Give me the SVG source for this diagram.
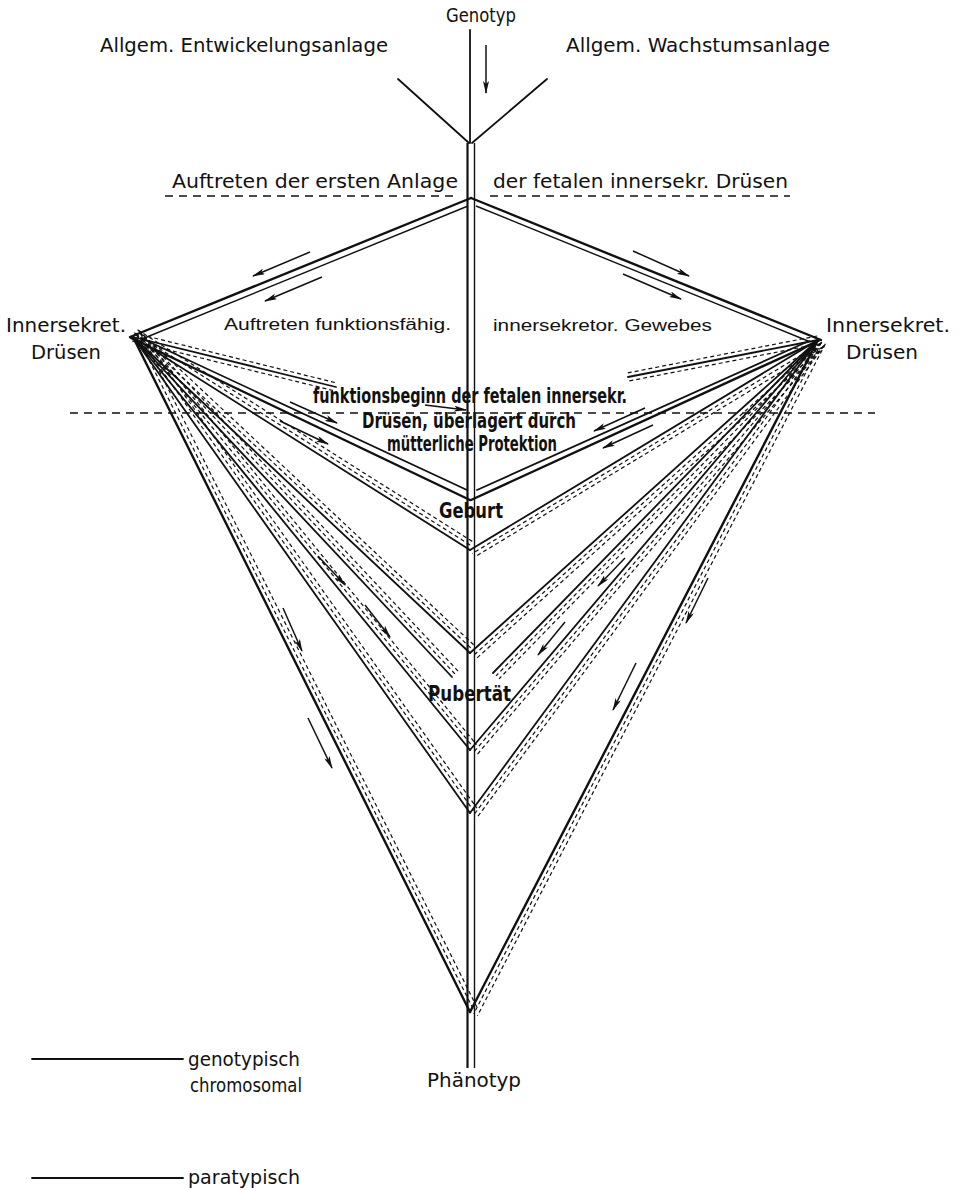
<svg xmlns="http://www.w3.org/2000/svg" xmlns:xlink="http://www.w3.org/1999/xlink" width="959" height="1190" viewBox="0 0 959 1190">
<style>
.din{font-family:"DejaVu Sans","Liberation Sans",sans-serif;font-size:19px;fill:#111}
.hel{font-family:"Liberation Sans",Arial,sans-serif;font-size:16px;fill:#111}
.cb{font-family:"DejaVu Sans Condensed","DejaVu Sans","Liberation Sans",sans-serif;font-weight:bold;font-size:21px;fill:#111}
.s{stroke:#111;stroke-width:1.8;fill:none;stroke-linecap:round}
.t{stroke:#111;stroke-width:2.4;fill:none;stroke-linecap:round}
.n{stroke:#111;stroke-width:1.4;fill:none}
.d{stroke:#111;stroke-width:1.2;fill:none;stroke-dasharray:4 3}
.d2{stroke:#111;stroke-width:1.5;fill:none;stroke-dasharray:8 6}
.ar{stroke:#111;stroke-width:1.5;fill:none;marker-end:url(#ah)}
</style>
<defs>
<marker id="ah" markerUnits="userSpaceOnUse" markerWidth="13" markerHeight="6" refX="12" refY="3" orient="auto"><path d="M0,0 L13,3 L0,6 L3,3 z" fill="#111"/></marker>
<path id="la" d="M133,337 L470,550"/>
<path id="lb" d="M133,337 L470,653"/>
<path id="lc" d="M133,337 L452,677"/>
<path id="ld" d="M133,337 L470,750"/>
<path id="le" d="M133,337 L470,813"/>
<path id="lf" d="M133,337 L470,1012"/>
<path id="lg" d="M133,337 L336,387"/>
<path id="ra" d="M818,340 L470,550"/>
<path id="rb" d="M818,340 L470,653"/>
<path id="rc" d="M818,340 L493,673"/>
<path id="rd" d="M818,340 L470,750"/>
<path id="re" d="M818,340 L470,813"/>
<path id="rf" d="M818,340 L470,1012"/>
<path id="rg" d="M818,340 L628,377"/>
</defs>
<rect width="959" height="1190" fill="#fff"/>

<g id="connectors">
  <line class="s" x1="470" y1="30" x2="470" y2="143"/>
  <line class="s" x1="398" y1="79" x2="469" y2="143"/>
  <line class="s" x1="547" y1="79" x2="472" y2="143"/>
  <line x1="467.5" y1="143" x2="467.5" y2="1068" stroke="#111" stroke-width="2.2"/>
  <line x1="474.5" y1="143" x2="474.5" y2="1068" stroke="#111" stroke-width="1.4"/>
  <line class="d2" x1="165" y1="196" x2="458" y2="196"/>
  <line class="d2" x1="490" y1="196" x2="790" y2="196"/>
  <line class="d2" x1="70" y1="413" x2="875" y2="413"/>
  <line class="t" x1="471" y1="198" x2="130" y2="337"/>
  <line class="n" x1="468" y1="206" x2="142" y2="339"/>
  <line class="t" x1="471" y1="198" x2="821" y2="340"/>
  <line class="n" x1="476" y1="206" x2="808" y2="341"/>
  <line class="t" x1="131" y1="338" x2="470" y2="500"/>
  <line class="s" x1="141" y1="338" x2="467" y2="490"/>
  <line class="t" x1="820" y1="340" x2="471" y2="500"/>
  <line class="s" x1="809" y1="341" x2="477" y2="490"/>
  <use href="#la" class="s"/><use href="#la" class="d" transform="translate(2.3,-3.6)"/><use href="#la" class="d" transform="translate(4.5,-7.2)"/>
  <use href="#lb" class="s"/><use href="#lb" class="d" transform="translate(2.9,-3.1)"/><use href="#lb" class="d" transform="translate(5.8,-6.2)"/>
  <use href="#lc" class="s"/><use href="#lc" class="d" transform="translate(3.1,-2.9)"/><use href="#lc" class="d" transform="translate(6.2,-5.8)"/>
  <use href="#ld" class="s"/><use href="#ld" class="d" transform="translate(3.3,-2.7)"/><use href="#ld" class="d" transform="translate(6.5,-5.3)"/>
  <use href="#le" class="s"/><use href="#le" class="d" transform="translate(3.5,-2.4)"/><use href="#le" class="d" transform="translate(6.9,-4.8)"/>
  <use href="#lf" class="t"/><use href="#lf" class="d" transform="translate(3.7,-1.9)"/><use href="#lf" class="d" transform="translate(7.5,-3.7)"/>
  <use href="#lg" class="s"/><use href="#lg" class="d" transform="translate(0.9,-4)"/><use href="#lg" class="d" transform="translate(-0.9,4)"/>
  <use href="#ra" class="s"/><use href="#ra" class="d" transform="translate(2.2,3.6)"/><use href="#ra" class="d" transform="translate(4.3,7.2)"/>
  <use href="#rb" class="s"/><use href="#rb" class="d" transform="translate(2.8,3.1)"/><use href="#rb" class="d" transform="translate(5.6,6.2)"/>
  <use href="#rc" class="s"/><use href="#rc" class="d" transform="translate(3,2.9)"/><use href="#rc" class="d" transform="translate(6,5.9)"/>
  <use href="#rd" class="s"/><use href="#rd" class="d" transform="translate(3.2,2.8)"/><use href="#rd" class="d" transform="translate(6.4,5.4)"/>
  <use href="#re" class="s"/><use href="#re" class="d" transform="translate(3.4,2.5)"/><use href="#re" class="d" transform="translate(6.7,5)"/>
  <use href="#rf" class="t"/><use href="#rf" class="d" transform="translate(3.7,1.9)"/><use href="#rf" class="d" transform="translate(7.4,3.8)"/>
  <use href="#rg" class="s"/><use href="#rg" class="d" transform="translate(0.8,4)"/><use href="#rg" class="d" transform="translate(-0.8,-4)"/>
  <line class="ar" x1="486" y1="45" x2="486" y2="93"/>
  <line class="ar" x1="310" y1="252" x2="253" y2="276"/>
  <line class="ar" x1="322" y1="277" x2="265" y2="301"/>
  <line class="ar" x1="633" y1="251" x2="689" y2="276"/>
  <line class="ar" x1="623" y1="274" x2="681" y2="299"/>
  <line class="ar" x1="290" y1="402" x2="337" y2="423"/>
  <line class="ar" x1="280" y1="421" x2="328" y2="444"/>
  <line class="ar" x1="645" y1="408" x2="594" y2="431"/>
  <line class="ar" x1="653" y1="425" x2="603" y2="448"/>
  <line class="ar" x1="318" y1="556" x2="345" y2="585"/>
  <line class="ar" x1="365" y1="605" x2="390" y2="637"/>
  <line class="ar" x1="283" y1="608" x2="302" y2="651"/>
  <line class="ar" x1="308" y1="718" x2="332" y2="768"/>
  <line class="ar" x1="625" y1="558" x2="598" y2="586"/>
  <line class="ar" x1="565" y1="622" x2="538" y2="655"/>
  <line class="ar" x1="708" y1="578" x2="686" y2="623"/>
  <line class="ar" x1="636" y1="663" x2="613" y2="710"/>
  <line class="ar" x1="425" y1="405" x2="466" y2="410"/>
</g>

<g id="genotyp"><text class="din" x="446" y="22" textLength="70" lengthAdjust="spacingAndGlyphs" style="font-size:20px">Genotyp</text></g>
<g id="allg-entwicklung"><text class="din" x="100" y="52" textLength="288" lengthAdjust="spacingAndGlyphs">Allgem. Entwickelungsanlage</text></g>
<g id="allg-wachstum"><text class="din" x="566" y="52" textLength="264" lengthAdjust="spacingAndGlyphs">Allgem. Wachstumsanlage</text></g>
<g id="erste-anlage">
  <text class="din" x="172" y="188" textLength="286" lengthAdjust="spacingAndGlyphs">Auftreten der ersten Anlage</text>
  <text class="din" x="493" y="188" textLength="295" lengthAdjust="spacingAndGlyphs">der fetalen innersekr. Drüsen</text>
</g>
<g id="druesen-links">
  <text class="din" x="6" y="332" textLength="120" lengthAdjust="spacingAndGlyphs">Innersekret.</text>
  <text class="din" x="31" y="359" textLength="70" lengthAdjust="spacingAndGlyphs">Drüsen</text>
</g>
<g id="druesen-rechts">
  <text class="din" x="826" y="332" textLength="124" lengthAdjust="spacingAndGlyphs">Innersekret.</text>
  <text class="din" x="846" y="359" textLength="72" lengthAdjust="spacingAndGlyphs">Drüsen</text>
</g>
<g id="gewebe">
  <text class="hel" x="224" y="330" textLength="227" lengthAdjust="spacingAndGlyphs">Auftreten funktionsfähig.</text>
  <text class="hel" x="493" y="331" textLength="219" lengthAdjust="spacingAndGlyphs">innersekretor. Gewebes</text>
</g>
<g id="funktionsbeginn">
  <text class="cb" x="313" y="403" textLength="314" lengthAdjust="spacingAndGlyphs">funktionsbeginn der fetalen innersekr.</text>
  <text class="cb" x="362" y="428" textLength="214" lengthAdjust="spacingAndGlyphs">Drüsen, überlagert durch</text>
  <text class="cb" x="387" y="451" textLength="170" lengthAdjust="spacingAndGlyphs">mütterliche Protektion</text>
</g>
<g id="geburt"><text class="cb" x="439" y="518" textLength="64" lengthAdjust="spacingAndGlyphs" style="font-size:22px">Geburt</text></g>
<g id="pubertaet"><text class="cb" x="428" y="701" textLength="83" lengthAdjust="spacingAndGlyphs" style="font-size:22px">Pubertät</text></g>
<g id="phaenotyp"><text class="din" x="427" y="1087" textLength="94" lengthAdjust="spacingAndGlyphs" style="font-size:20px">Phänotyp</text></g>
<g id="legende">
  <line class="s" x1="32" y1="1059" x2="183" y2="1059"/>
  <text class="din" x="188" y="1066" textLength="112" lengthAdjust="spacingAndGlyphs">genotypisch</text>
  <text class="din" x="190" y="1092" textLength="112" lengthAdjust="spacingAndGlyphs">chromosomal</text>
  <line class="s" x1="32" y1="1178" x2="183" y2="1178"/>
  <text class="din" x="188" y="1184" textLength="112" lengthAdjust="spacingAndGlyphs">paratypisch</text>
</g>
</svg>
